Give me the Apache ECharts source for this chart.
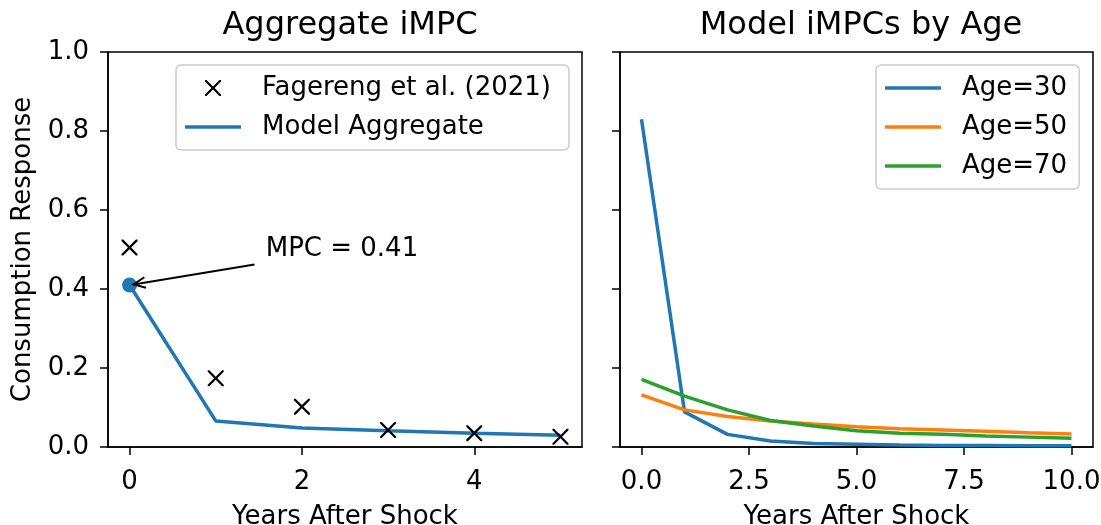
<!DOCTYPE html>
<html>
<head>
<meta charset="utf-8">
<script src="https://cdn.jsdelivr.net/npm/echarts@6/dist/echarts.min.js"></script>
<style>html,body{margin:0;padding:0;background:#fff}#c{width:1101px;height:525px}</style>
</head>
<body>
<div id="c"></div>
<script>
// ---- data ----
const years = [0, 1, 2, 3, 4, 5];
const fagereng = [0.505, 0.174, 0.102, 0.043, 0.035, 0.026];
const modelAgg = [0.41, 0.066, 0.048, 0.041, 0.035, 0.030];
const ageYears = [0, 1, 2, 3, 4, 5, 6, 7, 8, 9, 10];
const age30 = [0.830, 0.089, 0.032, 0.015, 0.009, 0.007, 0.005, 0.004, 0.004, 0.003, 0.003];
const age50 = [0.132, 0.094, 0.077, 0.066, 0.058, 0.051, 0.046, 0.043, 0.040, 0.036, 0.033];
const age70 = [0.171, 0.129, 0.094, 0.067, 0.053, 0.041, 0.035, 0.032, 0.028, 0.025, 0.022];
const leftXTicks = [0, 2, 4];
const rightXTicks = [0, 2.5, 5, 7.5, 10];
const mpcLabel = 'MPC = 0.41';

const FONT = 'DejaVu Sans';
const BLUE = '#1f77b4', ORANGE = '#ff7f0e', GREEN = '#2ca02c';
const CROSS = 'path://M0,0 L2,0 L10,8 L18,0 L20,0 L20,2 L12,10 L20,18 L20,20 L18,20 L10,12 L2,20 L0,20 L0,18 L8,10 L0,2 Z';
const LINEICON = 'path://M0,0 L56,0 L56,3.5 L0,3.5 Z';
const TICK_FS = 26, NAME_FS = 26, TITLE_FS = 32, LEG_FS = 26;

const zip = (xs, ys) => xs.map((x, i) => [x, ys[i]]);

const chart = echarts.init(document.getElementById('c'), null, {renderer: 'canvas'});

function xAxisCfg(idx, min, max, ticks, fmt) {
  return {
    type: 'value', gridIndex: idx, min: min, max: max,
    name: 'Years After Shock', nameLocation: 'middle', nameGap: 57,
    nameTextStyle: {fontFamily: FONT, fontSize: NAME_FS, color: '#000'},
    axisLine: {show: true, onZero: false, lineStyle: {color: '#000', width: 1.5}},
    axisTick: {show: true, inside: false, length: 8, lineStyle: {color: '#000', width: 1.5}, customValues: ticks},
    axisLabel: {show: true, fontFamily: FONT, fontSize: TICK_FS, color: '#000', margin: 22, customValues: ticks, formatter: fmt},
    splitLine: {show: false}
  };
}
function yAxisCfg(idx, showLabels) {
  return {
    type: 'value', gridIndex: idx, min: 0, max: 1, interval: 0.2,
    name: showLabels ? 'Consumption Response' : '', nameLocation: 'middle', nameGap: 72,
    nameTextStyle: {fontFamily: FONT, fontSize: NAME_FS, color: '#000'},
    axisLine: {show: true, onZero: false, lineStyle: {color: '#000', width: 1.5}},
    axisTick: {show: true, inside: false, length: 8, lineStyle: {color: '#000', width: 1.5}},
    axisLabel: {show: showLabels, fontFamily: FONT, fontSize: TICK_FS, color: '#000', margin: 19, formatter: v => v.toFixed(1)},
    splitLine: {show: false}
  };
}
function legendCfg(data, left, padRight) {
  return {
    data: data, orient: 'vertical', left: left, top: 65,
    padding: [9, padRight, 9, 9], itemGap: 11, itemWidth: 56, itemHeight: 16,
    borderColor: '#cccccc', borderWidth: 1.5, borderRadius: 5, backgroundColor: '#fff',
    textStyle: {fontFamily: FONT, fontSize: LEG_FS, color: '#000', lineHeight: 28, padding: [0, 0, 0, 16]},
    selectedMode: false
  };
}

const option = {
  backgroundColor: '#fff',
  animation: false,
  title: [
    {text: 'Aggregate iMPC', left: 345, top: 5, textAlign: 'center',
     textStyle: {fontFamily: FONT, fontSize: TITLE_FS, fontWeight: 'normal', color: '#000'}},
    {text: 'Model iMPCs by Age', left: 856, top: 5, textAlign: 'center',
     textStyle: {fontFamily: FONT, fontSize: TITLE_FS, fontWeight: 'normal', color: '#000'}}
  ],
  grid: [
    {left: 108, top: 52, width: 474, height: 395, show: true, borderColor: '#000', borderWidth: 1.5,
     backgroundColor: 'transparent', containLabel: false, outerBoundsMode: 'none'},
    {left: 620, top: 52, width: 473, height: 395, show: true, borderColor: '#000', borderWidth: 1.5,
     backgroundColor: 'transparent', containLabel: false, outerBoundsMode: 'none'}
  ],
  xAxis: [
    xAxisCfg(0, -0.25, 5.25, leftXTicks, v => String(v)),
    xAxisCfg(1, -0.5, 10.5, rightXTicks, v => v.toFixed(1))
  ],
  yAxis: [yAxisCfg(0, true), yAxisCfg(1, false)],
  legend: [
    legendCfg([{name: 'Fagereng et al. (2021)', icon: CROSS}, {name: 'Model Aggregate', icon: LINEICON}], 176, 18),
    legendCfg([{name: 'Age=30', icon: LINEICON}, {name: 'Age=50', icon: LINEICON}, {name: 'Age=70', icon: LINEICON}], 876, 12)
  ],
  series: [
    {
      name: 'Fagereng et al. (2021)', type: 'scatter', xAxisIndex: 0, yAxisIndex: 0,
      data: zip(years, fagereng), symbol: CROSS, symbolSize: 16,
      itemStyle: {color: '#000', opacity: 1}, z: 4
    },
    {
      name: 'Model Aggregate', type: 'line', xAxisIndex: 0, yAxisIndex: 0,
      data: zip(years, modelAgg), symbol: 'none', showSymbol: false,
      lineStyle: {color: BLUE, width: 3.5}, itemStyle: {color: BLUE}, z: 3
    },
    {
      name: 'mpcPoint', type: 'scatter', xAxisIndex: 0, yAxisIndex: 0,
      data: [[years[0], modelAgg[0]]], symbol: 'circle', symbolSize: 15,
      itemStyle: {color: BLUE, opacity: 1}, z: 5
    },
    {
      name: 'annotation', type: 'custom', xAxisIndex: 0, yAxisIndex: 0,
      data: [[years[0], modelAgg[0]]], z: 6, silent: true,
      renderItem: function (params, api) {
        const head0 = api.coord([api.value(0), api.value(1)]);
        const tail = api.coord([1.45, 0.462]);
        const txt = api.coord([1.58, 0.50]);
        const dx = tail[0] - head0[0], dy = tail[1] - head0[1];
        const L = Math.sqrt(dx * dx + dy * dy);
        const ux = dx / L, uy = dy / L;
        const head = [head0[0] + ux * 4, head0[1] + uy * 4];
        const ah = 13, ang = 0.42;
        const rot = (x, y, a) => [x * Math.cos(a) - y * Math.sin(a), x * Math.sin(a) + y * Math.cos(a)];
        const r1 = rot(ux, uy, ang), r2 = rot(ux, uy, -ang);
        return {
          type: 'group',
          children: [
            {type: 'line', shape: {x1: tail[0], y1: tail[1], x2: head[0], y2: head[1]},
             style: {stroke: '#000', lineWidth: 2}},
            {type: 'polyline', shape: {points: [[head[0] + r1[0] * ah, head[1] + r1[1] * ah], head, [head[0] + r2[0] * ah, head[1] + r2[1] * ah]]},
             style: {stroke: '#000', lineWidth: 2, fill: null}},
            {type: 'text', x: txt[0], y: txt[1],
             style: {text: mpcLabel, fontFamily: FONT, fontSize: LEG_FS, fill: '#000', align: 'left', verticalAlign: 'middle'}}
          ]
        };
      }
    },
    {
      name: 'Age=30', type: 'line', xAxisIndex: 1, yAxisIndex: 1,
      data: zip(ageYears, age30), symbol: 'none',
      lineStyle: {color: BLUE, width: 3.5}, itemStyle: {color: BLUE}
    },
    {
      name: 'Age=50', type: 'line', xAxisIndex: 1, yAxisIndex: 1,
      data: zip(ageYears, age50), symbol: 'none',
      lineStyle: {color: ORANGE, width: 3.5}, itemStyle: {color: ORANGE}
    },
    {
      name: 'Age=70', type: 'line', xAxisIndex: 1, yAxisIndex: 1,
      data: zip(ageYears, age70), symbol: 'none',
      lineStyle: {color: GREEN, width: 3.5}, itemStyle: {color: GREEN}
    }
  ]
};
chart.setOption(option);
</script>
</body>
</html>
